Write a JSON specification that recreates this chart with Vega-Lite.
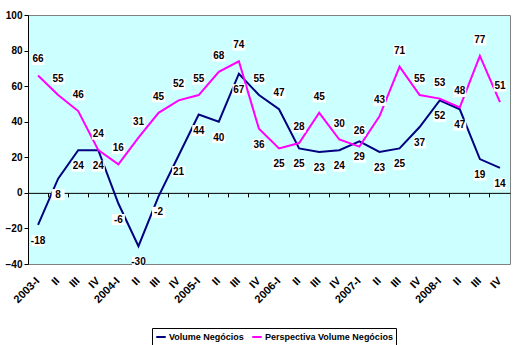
{
  "$schema": "https://vega.github.io/schema/vega-lite/v6.json",
  "width": 482,
  "height": 249,
  "autosize": {"type": "none"},
  "padding": {"left": 28, "top": 15, "right": 8, "bottom": 81},
  "config": {
    "font": "Liberation Sans",
    "view": {"fill": "#CCFFFF", "stroke": "#808080", "strokeWidth": 1},
    "axisY": {"labelFontWeight": "bold", "labelFontSize": 10, "labelColor": "#000", "domainColor": "#000", "tickColor": "#000", "tickSize": 4, "labelPadding": 2, "grid": false, "title": null, "values": [-40, -20, 0, 20, 40, 60, 80, 100]}
  },
  "data": {"values": [
    {"q":"2003-I","Volume Negócios":-18,"Perspectiva Volume Negócios":66},
    {"q":"2003-II","Volume Negócios":8,"Perspectiva Volume Negócios":55},
    {"q":"2003-III","Volume Negócios":24,"Perspectiva Volume Negócios":46},
    {"q":"2003-IV","Volume Negócios":24,"Perspectiva Volume Negócios":24},
    {"q":"2004-I","Volume Negócios":-6,"Perspectiva Volume Negócios":16},
    {"q":"2004-II","Volume Negócios":-30,"Perspectiva Volume Negócios":31},
    {"q":"2004-III","Volume Negócios":-2,"Perspectiva Volume Negócios":45},
    {"q":"2004-IV","Volume Negócios":21,"Perspectiva Volume Negócios":52},
    {"q":"2005-I","Volume Negócios":44,"Perspectiva Volume Negócios":55},
    {"q":"2005-II","Volume Negócios":40,"Perspectiva Volume Negócios":68},
    {"q":"2005-III","Volume Negócios":67,"Perspectiva Volume Negócios":74},
    {"q":"2005-IV","Volume Negócios":55,"Perspectiva Volume Negócios":36},
    {"q":"2006-I","Volume Negócios":47,"Perspectiva Volume Negócios":25},
    {"q":"2006-II","Volume Negócios":25,"Perspectiva Volume Negócios":28},
    {"q":"2006-III","Volume Negócios":23,"Perspectiva Volume Negócios":45},
    {"q":"2006-IV","Volume Negócios":24,"Perspectiva Volume Negócios":30},
    {"q":"2007-I","Volume Negócios":29,"Perspectiva Volume Negócios":26},
    {"q":"2007-II","Volume Negócios":23,"Perspectiva Volume Negócios":43},
    {"q":"2007-III","Volume Negócios":25,"Perspectiva Volume Negócios":71},
    {"q":"2007-IV","Volume Negócios":37,"Perspectiva Volume Negócios":55},
    {"q":"2008-I","Volume Negócios":52,"Perspectiva Volume Negócios":53},
    {"q":"2008-II","Volume Negócios":47,"Perspectiva Volume Negócios":48},
    {"q":"2008-III","Volume Negócios":19,"Perspectiva Volume Negócios":77},
    {"q":"2008-IV","Volume Negócios":14,"Perspectiva Volume Negócios":51}
  ]},
  "layer": [
    {
      "transform": [{"fold": ["Volume Negócios", "Perspectiva Volume Negócios"], "as": ["s", "v"]}],
      "mark": {"type": "line", "strokeWidth": 2},
      "encoding": {
        "x": {"field": "q", "type": "ordinal", "sort": null, "bandPosition": 0.5,
              "scale": {"type": "band", "paddingInner": 0, "paddingOuter": 0},
              "axis": {"title": null, "orient": "bottom", "labels": false, "offset": -71.14, "bandPosition": 0, "domainColor": "#000", "tickColor": "#000", "tickSize": 4, "grid": false}},
        "y": {"field": "v", "type": "quantitative", "scale": {"domain": [-40, 100], "nice": false, "zero": false}},
        "color": {"field": "s", "type": "nominal", "sort": null,
                  "scale": {"domain": ["Volume Negócios", "Perspectiva Volume Negócios"], "range": ["#000080", "#FF00FF"]},
                  "legend": {"title": null, "orient": "none", "legendX": 124, "legendY": 313, "direction": "horizontal",
                             "symbolType": "stroke", "symbolStrokeWidth": 2, "symbolSize": 90,
                             "labelFont": "Liberation Sans", "labelFontWeight": "bold", "labelFontSize": 9, "labelColor": "#000",
                             "strokeColor": "#000", "fillColor": "#fff", "padding": 3, "columnPadding": 4, "labelOffset": 2}}
      }
    },
    {
      "mark": {"type": "point", "shape": "M-1,-0.85H1V0.85H-1Z", "filled": true, "color": "#fff", "opacity": 1, "size": 169,
               "yOffset": {"expr": "datum['Volume Negócios'] > datum['Perspectiva Volume Negócios'] + 5 ? -16 : 16"}},
      "encoding": {
        "x": {"field": "q", "type": "ordinal", "sort": null, "bandPosition": 0.5,
              "axis": {"title": null, "orient": "bottom", "domain": false, "ticks": false, "labelAngle": -45, "labelAlign": "right", "labelBaseline": "middle", "labelPadding": 15, "bandPosition": 0.5,
                       "labelFontWeight": "bold", "labelFontSize": 11, "labelColor": "#000",
                       "labelExpr": "slice(datum.value, 5) == 'I' ? datum.value : slice(datum.value, 5)"}},
        "y": {"field": "Volume Negócios", "type": "quantitative"}
      }
    },
    {
      "mark": {"type": "point", "shape": "M-1,-0.85H1V0.85H-1Z", "filled": true, "color": "#fff", "opacity": 1, "size": 169,
               "yOffset": {"expr": "datum['Volume Negócios'] > datum['Perspectiva Volume Negócios'] + 5 ? 16 : -16"}},
      "encoding": {
        "x": {"field": "q", "type": "ordinal", "sort": null, "bandPosition": 0.5, "axis": null},
        "y": {"field": "Perspectiva Volume Negócios", "type": "quantitative"}
      }
    },
    {
      "mark": {"type": "text", "fontWeight": "bold", "fontSize": 10, "color": "#000", "baseline": "middle",
               "yOffset": {"expr": "datum['Volume Negócios'] > datum['Perspectiva Volume Negócios'] + 5 ? -16 : 16"}},
      "encoding": {
        "x": {"field": "q", "type": "ordinal", "sort": null, "bandPosition": 0.5, "axis": null},
        "y": {"field": "Volume Negócios", "type": "quantitative"},
        "text": {"field": "Volume Negócios", "type": "nominal"}
      }
    },
    {
      "mark": {"type": "text", "fontWeight": "bold", "fontSize": 10, "color": "#000", "baseline": "middle",
               "yOffset": {"expr": "datum['Volume Negócios'] > datum['Perspectiva Volume Negócios'] + 5 ? 16 : -16"}},
      "encoding": {
        "x": {"field": "q", "type": "ordinal", "sort": null, "bandPosition": 0.5, "axis": null},
        "y": {"field": "Perspectiva Volume Negócios", "type": "quantitative"},
        "text": {"field": "Perspectiva Volume Negócios", "type": "nominal"}
      }
    }
  ],
  "resolve": {"axis": {"x": "independent"}}
}
